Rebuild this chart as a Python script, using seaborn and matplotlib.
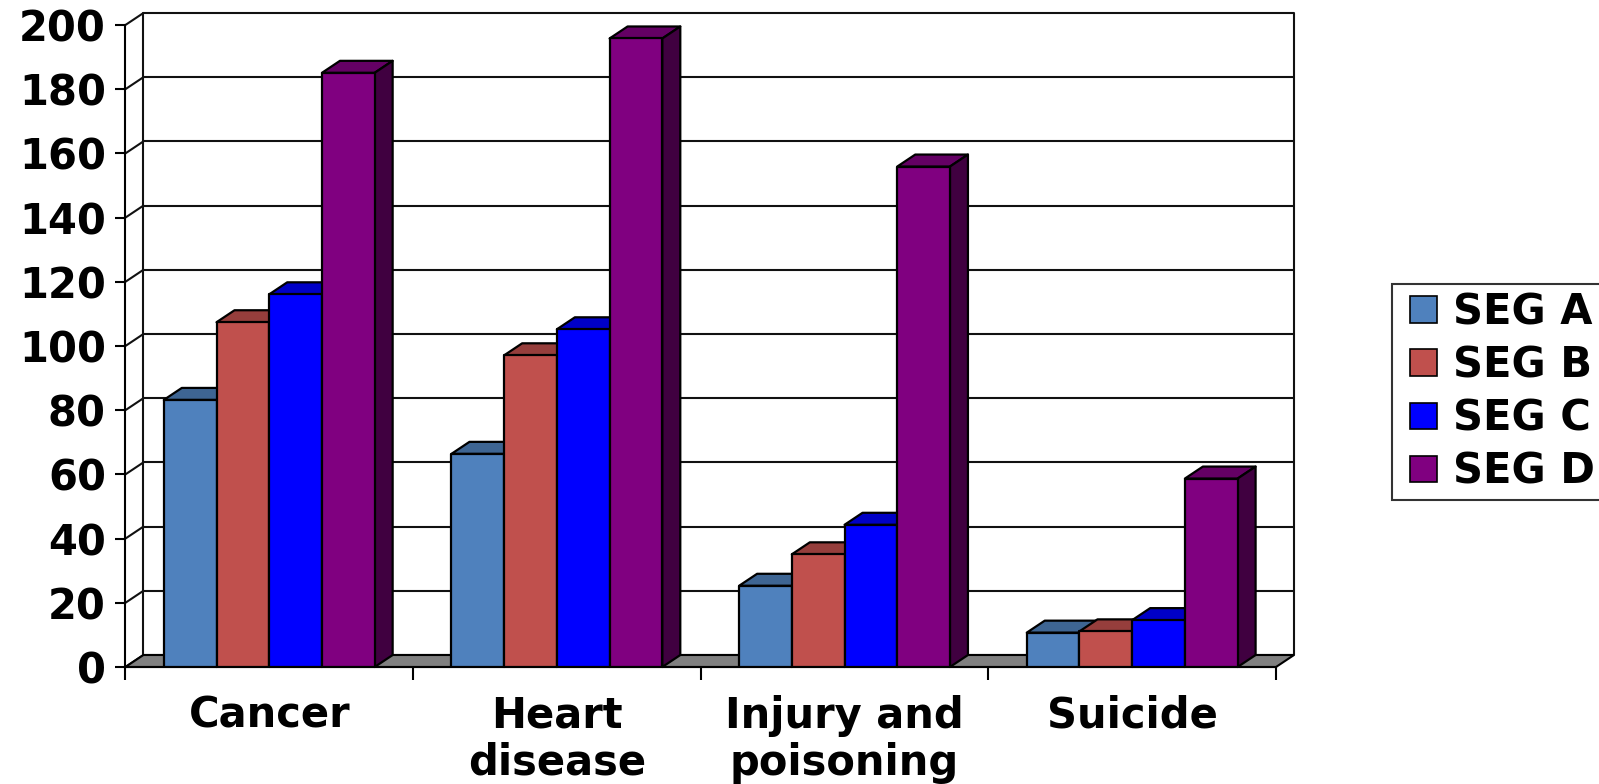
import numpy as np
import pandas as pd
import matplotlib
matplotlib.use("Agg")
import matplotlib.pyplot as plt
import matplotlib.colors as mcolors
from matplotlib.patches import Polygon, Patch, Rectangle
from matplotlib.legend_handler import HandlerPatch
import seaborn as sns

categories = ["Cancer", "Heart\ndisease", "Injury and\npoisoning", "Suicide"]
segments = ["SEG A", "SEG B", "SEG C", "SEG D"]
seg_a = [83.2, 66.4, 25.3, 10.7]
seg_b = [107.4, 97.1, 35.1, 11.1]
seg_c = [116.1, 105.2, 44.3, 14.6]
seg_d = [185.1, 195.8, 155.9, 58.7]
y_ticks = [0, 20, 40, 60, 80, 100, 120, 140, 160, 180, 200]
colors = ["#4F81BD", "#C0504D", "#0000FF", "#800080"]

rows = []
for seg, vals in zip(segments, [seg_a, seg_b, seg_c, seg_d]):
    for cat, v in zip(categories, vals):
        rows.append({"category": cat, "segment": seg, "value": v})
df = pd.DataFrame(rows)

sns.set_style("white")
plt.rcParams["font.family"] = ["DejaVu Sans"]
plt.rcParams["font.weight"] = "bold"
plt.rcParams["text.color"] = "black"
plt.rcParams["xtick.color"] = "black"
plt.rcParams["ytick.color"] = "black"
plt.rcParams["xtick.labelcolor"] = "black"
plt.rcParams["ytick.labelcolor"] = "black"

W, H = 1599, 784
fig = plt.figure(figsize=(W / 100, H / 100), dpi=100)
left, right, top, bottom = 125.4, 1276, 25, 667
ax = fig.add_axes([left / W, 1 - bottom / H, (right - left) / W, (bottom - top) / H])

sns.barplot(data=df, x="category", y="value", hue="segment", order=categories,
            hue_order=segments, palette=colors, saturation=1, width=0.733,
            edgecolor="black", linewidth=1.6, ax=ax, legend=False)

ax.set_xlim(-0.5, 3.5)
ax.set_ylim(0, 200)

# depth offsets in data units
px_x = 1.0 / ((right - left) / 4.0)
px_y = 200.0 / (bottom - top)
dx = 18 * px_x
dy = 12 * px_y

def shade(c, f):
    r, g, b, a = mcolors.to_rgba(c)
    return (r * f, g * f, b * f, 1)

bars = sorted([p for p in ax.patches], key=lambda p: p.get_x())
for i, p in enumerate(bars):
    x0, w, h = p.get_x(), p.get_width(), p.get_height()
    fc = p.get_facecolor()
    z = 3 + i * 0.01
    p.set_zorder(z + 0.005)
    p.set_joinstyle("round")
    topf = Polygon([(x0, h), (x0 + w, h), (x0 + w + dx, h + dy), (x0 + dx, h + dy)],
                   closed=True, facecolor=shade(fc, 0.78), edgecolor="black",
                   linewidth=1.6, zorder=z, clip_on=False, joinstyle="round")
    side = Polygon([(x0 + w, 0), (x0 + w, h), (x0 + w + dx, h + dy), (x0 + w + dx, dy)],
                   closed=True, facecolor=shade(fc, 0.5), edgecolor="black",
                   linewidth=1.6, zorder=z, clip_on=False, joinstyle="round")
    ax.add_patch(topf)
    ax.add_patch(side)

# floor
floor = Polygon([(-0.5, 0), (3.5, 0), (3.5 + dx, dy), (-0.5 + dx, dy)], closed=True,
                facecolor="#808080", edgecolor="black", linewidth=1.5, zorder=1.5,
                clip_on=False)
ax.add_patch(floor)

# walls and gridlines
lc = "#111111"
for v in y_ticks:
    ax.plot([-0.5 + dx, 3.5 + dx], [v + dy, v + dy], color=lc, lw=1.5, zorder=1,
            clip_on=False, solid_capstyle="butt")
    ax.plot([-0.5, -0.5 + dx], [v, v + dy], color=lc, lw=1.5, zorder=1, clip_on=False)
for xv in [-0.5 + dx, 3.5 + dx]:
    ax.plot([xv, xv], [dy, 200 + dy], color=lc, lw=1.5, zorder=1, clip_on=False)

for s in ["top", "right"]:
    ax.spines[s].set_visible(False)
for s in ["left", "bottom"]:
    ax.spines[s].set_color("black")
    ax.spines[s].set_linewidth(1.5)

ax.set_yticks(y_ticks)
ax.set_yticklabels([str(v) for v in y_ticks])
ax.tick_params(axis="y", length=7, width=1.5, direction="out", pad=7,
               labelsize=30, color="black", labelcolor="black", left=True)
ax.set_xticks(range(4))
ax.set_xticklabels(categories, linespacing=1.15)
ax.set_xticks([-0.5, 0.5, 1.5, 2.5, 3.5], minor=True)
ax.tick_params(axis="x", which="major", length=0, pad=20, labelsize=30,
               labelcolor="black")
ax.tick_params(axis="x", which="minor", length=9, width=1.5, direction="out",
               color="black", bottom=True)
for lab in ax.get_xticklabels() + ax.get_yticklabels():
    lab.set_fontweight("bold")
    lab.set_color("black")
ax.set_xlabel("")
ax.set_ylabel("")

LEG_OFF = 8.0

def make_rect(legend, orig_handle, xdescent, ydescent, width, height, fontsize):
    return Rectangle((-xdescent + LEG_OFF, -ydescent), width - LEG_OFF, height)

handles = [Patch(facecolor=c, edgecolor="black", linewidth=1.2) for c in colors]
leg = fig.legend(handles, segments, loc="center left",
                 bbox_to_anchor=(1392 / W, 1 - 392 / H), frameon=True,
                 fancybox=False, edgecolor="black", borderaxespad=0,
                 prop={"size": 30, "weight": "bold"}, handlelength=0.91,
                 handleheight=0.6, handletextpad=0.38, borderpad=0.17,
                 labelspacing=0.27, labelcolor="black",
                 handler_map={Patch: HandlerPatch(patch_func=make_rect)})
leg.get_frame().set_linewidth(1.5)

fig.savefig("out.png", dpi=100)
